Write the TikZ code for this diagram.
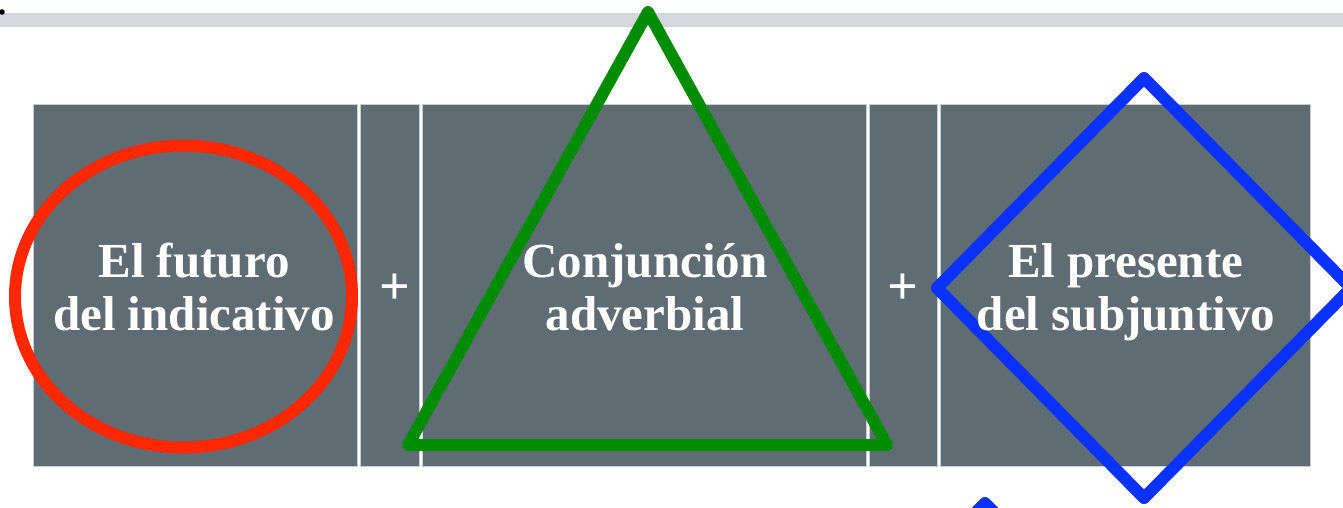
\documentclass[tikz,border=0pt]{standalone}
\usepackage{fontspec}
\setmainfont{Liberation Serif}
\definecolor{boxgray}{RGB}{95,108,115}
\definecolor{boxedge}{RGB}{200,207,212}
\definecolor{bargray}{RGB}{212,216,220}
\definecolor{ringred}{RGB}{255,40,0}
\definecolor{trigreen}{RGB}{0,140,0}
\definecolor{diablue}{RGB}{10,50,255}
\tikzset{
  panel/.style={fill=boxgray, draw=boxedge, line width=0.8pt, inner sep=0pt, rectangle},
  lbl/.style={text=white, font=\bfseries\fontsize{49}{53}\selectfont, align=center, inner sep=0pt},
  plus/.style={text=white, font=\bfseries\fontsize{54}{60}\selectfont, inner sep=0pt},
  outline/.style={line width=12pt, line join=round, line cap=round}
}
\begin{document}
\begin{tikzpicture}[x=1pt,y=-1pt]
\useasboundingbox (0,0) rectangle (1343,508);
\clip (0,0) rectangle (1343,508);
\fill[white] (0,0) rectangle (1343,508);
\fill[bargray] (0,13) rectangle (1343,27);
\fill[black] (2,12) circle (2.8);
% panels
\node[panel, minimum width=324pt, minimum height=362pt] (b1) at (195,285) {};
\node[panel, minimum width=59pt,  minimum height=362pt] (b2) at (389.5,285) {};
\node[panel, minimum width=444pt, minimum height=362pt] (b3) at (644,285) {};
\node[panel, minimum width=68pt,  minimum height=362pt] (b4) at (903,285) {};
\node[panel, minimum width=370pt, minimum height=362pt] (b5) at (1125,285) {};
% shapes
\draw[outline, draw=ringred] (183.5,296.5) ellipse [x radius=168.5, y radius=151];
\draw[outline, draw=trigreen] (648,12) -- (408,445) -- (887,445) -- cycle;
\draw[outline, draw=diablue] (1144,78) -- (1351,288) -- (1144,498) -- (937,288) -- cycle;
\draw[outline, draw=diablue] (960,528) -- (985,503) -- (1010,528);
% texts
\node[lbl] (t1) at (194,292.9) {\strut El futuro\\\strut del indicativo};
\node[lbl] (t2) at (645,292.9) {\strut Conjunción\\\strut adverbial};
\node[lbl] (t3) at (1126,292.9) {\strut El presente\\\strut del subjuntivo};
\node[plus, anchor=base] (p1) at (395,304) {+};
\node[plus, anchor=base] (p2) at (903,304) {+};
\end{tikzpicture}
\end{document}
